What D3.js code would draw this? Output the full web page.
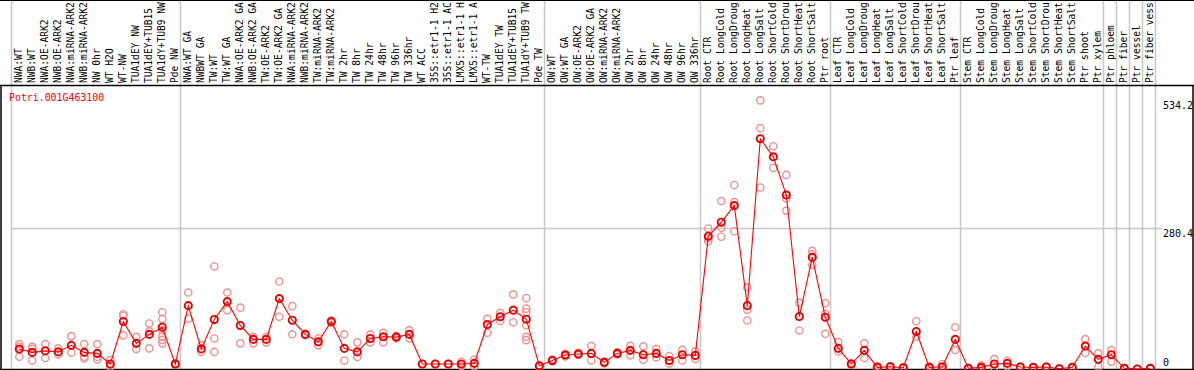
<!DOCTYPE html>
<html><head><meta charset="utf-8">
<script src="https://cdn.jsdelivr.net/npm/d3@7"></script>
<style>body{margin:0;background:#fff}svg{display:block}text{font-family:"DejaVu Sans Mono",monospace}</style>
</head><body><svg id="c" width="1194" height="370"></svg>
<script>
const title = "Potri.001G463100";
const labels = ["NWA:WT","NWB:WT","NWA:OE-ARK2","NWB:OE-ARK2","NWA:miRNA-ARK2","NWB:miRNA-ARK2","NW 0hr","WT H2O","WT-NW","TUA1dEY NW","TUA1dEY+TUB15","TUA1dY+TUB9 NW","Pde NW",
"NWA:WT GA","NWBWT GA","TW:WT","TW:WT GA","NWA:OE-ARK2 GA","NWB:OE-ARK2 GA","TW:OE-ARK2","TW:OE-ARK2 GA","NWA:miRNA-ARK2","NWB:miRNA-ARK2","TW:miRNA-ARK2","TW:miRNA-ARK2","TW 2hr","TW 8hr","TW 24hr","TW 48hr","TW 96hr","TW 336hr","WT ACC","35S::etr1-1 H2","35S::etr1-1 AC","LMX5::etr1-1 H","LMX5::etr1-1 A","WT-TW","TUA1dEY TW","TUA1dEY+TUB15","TUA1dY+TUB9 TW","Pde TW",
"OW:WT","OW:WT GA","OW:OE-ARK2","OW:OE-ARK2 GA","OW:miRNA-ARK2","OW:miRNA-ARK2","OW 2hr","OW 8hr","OW 24hr","OW 48hr","OW 96hr","OW 336hr",
"Root CTR","Root LongCold","Root LongDroug","Root LongHeat","Root LongSalt","Root ShortCold","Root ShortDrou","Root ShortHeat","Root ShortSalt","Ptr root",
"Leaf CTR","Leaf LongCold","Leaf LongDroug","Leaf LongHeat","Leaf LongSalt","Leaf ShortCold","Leaf ShortDrou","Leaf ShortHeat","Leaf ShortSalt","Ptr leaf",
"Stem CTR","Stem LongCold","Stem LongDroug","Stem LongHeat","Stem LongSalt","Stem ShortCold","Stem ShortDrou","Stem ShortHeat","Stem ShortSalt","Ptr shoot","Ptr xylem",
"Ptr phloem","Ptr fiber","Ptr vessel","Ptr fiber vess"];
const means = [39.6,33,36,34,47,33,31,9.9,94.5,51,68.8,83,9.9,
126,40,98.5,134,86.6,58.9,58.9,140,97,68.8,54,94.5,41,34,60.8,64,63.4,68.8,9.9,9.9,9.9,9.9,11.2,88.6,104,117,99,6.6,
17,27.7,29.7,31,13.2,31,37,28.4,31,17,28.4,27,
264,292,325,126,458,422,346,104.4,222,103,
41,9.9,37,3.3,4.6,2.6,74.7,3.3,4.6,58.9,
1.4,3.3,9.9,11.2,4,3.3,4,0.6,3.3,45.6,19.2,
28.4,1.4,0,1.4];
const reps = [[49.6,24.4,44],[44,17,40],[49.6,21.8],[41,29],[65.4,32.3],[49.6,24.4,21],[49.6,24.4,19],[17.8,4.6],[109,66.8,106],[64,40],[90.6,41,75],[113,99.7,77,65,58,51],[11,8],
[152,100],[47,34],[204,60.8,34],[152,117],[122,51],[64,51],[64,53],[174,104],[125,69],[70,67],[61,47],[97,92],[69,17],[53,24],[69,53],[72,53],[66,61],[77,61],[9.9,9],[9.9,9],[9.9,9],[14.5,6],[19,5],[99.7,72],[111.6,95.7],[148,93],[140.7,120,113,87,64,57.5],[6.6,5],
[19,15],[30,25],[32,28],[45.6,17],[15,11],[33,29],[46,27],[45,18.5],[40,23],[26,11],[38,17],[35,20],
[279.5,254,260],[334,281,263],[366,332,274],[162,117.6,96.5],[534.2,479,361],[443,400],[386,339,315],[132,76.7],[235,207,228],[131,70,110],
[53.5,35],[12,8],[51,22],[6,3],[6,3],[4,1],[95,64],[5,2],[10,2],[83,37.7],
[2,0],[7.3,0],[19.8,3],[16.5,5],[5,3],[4,2],[5,3],[1,0],[4,2],[59.5,32],[31,4.6],
[37.7,14.5],[2,1],[0,0],[2,1]];
const groupStarts = [0,13,41,53,63,73,84,85,86,87,88];
const yTicks = [534.2, 280.4, 0];
const gridTicks = [280.4];

const svg = d3.select("#c");
const x = d3.scaleBand().domain(d3.range(labels.length)).range([11, 1155]).paddingInner(0).paddingOuter(0);
const px = i => x(i) + 8.3;
const y = d3.scaleLinear().domain([0, 534.2]).range([369, 100.4]);

// group lines
const bx = k => k < labels.length ? x(k) : x(labels.length-1) + x.bandwidth();
svg.selectAll("line.g").data(groupStarts).join("line")
  .attr("x1", d => bx(d)+0.5).attr("x2", d => bx(d)+0.5).attr("y1", 0).attr("y2", 369)
  .attr("stroke", "#c8c8c8").attr("stroke-width", 1.5);
// grid
svg.selectAll("line.h").data(gridTicks).join("line")
  .attr("x1", 11).attr("x2", 1162).attr("y1", d => Math.round(y(d))+0.5).attr("y2", d => Math.round(y(d))+0.5)
  .attr("stroke", "#c8c8c8").attr("stroke-width", 1.5);
// borders
svg.append("line").attr("x1",0).attr("x2",1194).attr("y1",0.5).attr("y2",0.5).attr("stroke","#000");
svg.append("line").attr("x1",0).attr("x2",1194).attr("y1",85.5).attr("y2",85.5).attr("stroke","#000").attr("stroke-width",1.5);
svg.append("line").attr("x1",1).attr("x2",1).attr("y1",85).attr("y2",370).attr("stroke","#000").attr("stroke-width",1.5);
svg.append("line").attr("x1",1193).attr("x2",1193).attr("y1",85).attr("y2",370).attr("stroke","#000").attr("stroke-width",1.5);
svg.append("line").attr("x1",0).attr("x2",1194).attr("y1",369.5).attr("y2",369.5).attr("stroke","#000").attr("stroke-width",1.5);

// header labels
svg.selectAll("text.lab").data(labels).join("text")
  .attr("transform", (d,i) => `translate(${px(i)+2.6},83) rotate(-90)`)
  .attr("font-size", "9.6px").attr("fill", "#000").text(d => d);

// title
svg.append("text").attr("x", 9).attr("y", 101).attr("font-size","9.9px").attr("fill","#f00").text(title);

// y labels
svg.selectAll("text.yt").data(yTicks).join("text")
  .attr("x", 1163).attr("y", d => d === 0 ? y(d) - 3 : y(d) + 9)
  .attr("font-size","10px").attr("fill","#000").text(d => d);

// replicates
const repPts = [];
reps.forEach((r,i) => r.forEach(v => repPts.push({i, v})));
svg.selectAll("circle.r").data(repPts).join("circle")
  .attr("cx", d => px(d.i)).attr("cy", d => y(d.v)).attr("r", 3.6)
  .attr("fill","none").attr("stroke","#ee9090").attr("stroke-width",1.4);
// line
svg.append("path").datum(means)
  .attr("d", d3.line().x((d,i) => px(i)).y(d => y(d)))
  .attr("fill","none").attr("stroke","#f00").attr("stroke-width",1.1);
// means
svg.selectAll("circle.m").data(means).join("circle")
  .attr("cx", (d,i) => px(i)).attr("cy", d => y(d)).attr("r", 3.6)
  .attr("fill","none").attr("stroke","#e80000").attr("stroke-width",1.9);
</script></body></html>
